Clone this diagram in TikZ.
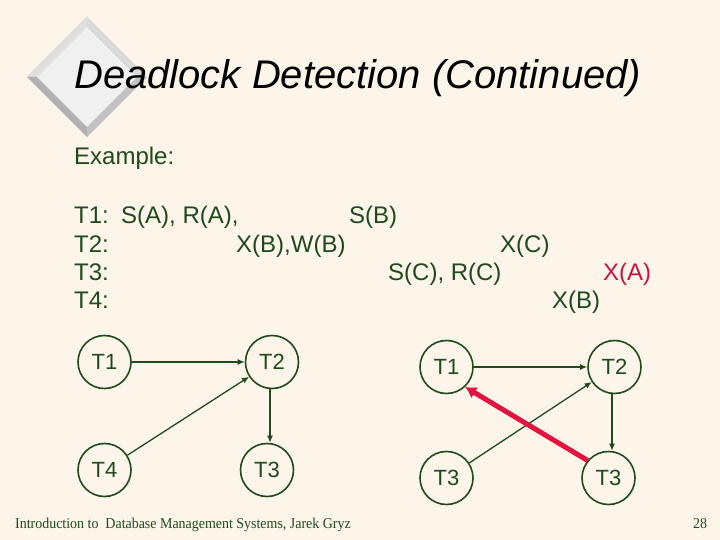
\documentclass[tikz,border=0pt]{standalone}
\usepackage{fontspec}
\setmainfont{Liberation Sans}
\newfontfamily\footfont{Liberation Serif}
\usetikzlibrary{arrows.meta}
\definecolor{bgc}{HTML}{FDF5E9}
\definecolor{dgreen}{HTML}{1E4A1E}
\definecolor{redc}{HTML}{E3123E}
\definecolor{redt}{HTML}{CC1144}
\tikzset{
  tnode/.style={circle, draw=dgreen, line width=1.6pt, minimum size=53pt, inner sep=0pt, text=dgreen, font=\fontsize{22}{26}\selectfont},
  edge/.style={draw=dgreen, line width=1.3pt, -{Latex[length=7pt,width=6pt]}},
  redge/.style={draw=redc, line width=5pt, -{Latex[length=11pt,width=13pt]}},
  body/.style={anchor=base west, inner sep=0pt, text=dgreen, font=\fontsize{24}{28}\selectfont},
  foot/.style={anchor=base west, inner sep=0pt, text=dgreen, font=\footfont\fontsize{15}{18}\selectfont},
}
\begin{document}
\begin{tikzpicture}[x=1pt, y=-1pt]
\useasboundingbox (0,0) rectangle (720,540);
\fill[bgc] (0,0) rectangle (720,540);
% diamond logo
\fill[gray!45] (27,77) -- (87,17) -- (147,77) -- (87,137) -- cycle;
\fill[gray!25] (27,77) -- (87,17) -- (87,27) -- (37,77) -- cycle;
\fill[gray!30] (87,17) -- (147,77) -- (137,77) -- (87,27) -- cycle;
\fill[gray!60] (27,77) -- (87,137) -- (87,127) -- (37,77) -- cycle;
\fill[gray!48] (87,137) -- (147,77) -- (137,77) -- (87,127) -- cycle;
\fill[black!6] (37,77) -- (87,27) -- (137,77) -- (87,127) -- cycle;
% title
\node[anchor=base west, inner sep=0pt, font=\itshape\fontsize{40}{46}\selectfont] (title) at (74,89) {Deadlock Detection (Continued)};
% body text
\node[body] (ex) at (74,165) {Example:};
\node[body] (l1) at (74,223) {T1:};
\node[body] (l2) at (74,252) {T2:};
\node[body] (l3) at (74,280) {T3:};
\node[body] (l4) at (74,308) {T4:};
\node[body] (a1) at (121,223) {S(A), R(A),};
\node[body] (a2) at (349,223) {S(B)};
\node[body] (b1) at (236,252) {X(B),W(B)};
\node[body] (b2) at (500,252) {X(C)};
\node[body] (c1) at (388,280) {S(C), R(C)};
\node[body, text=redt] (c2) at (603,280) {X(A)};
\node[body] (d1) at (552,308) {X(B)};
% left graph
\node[tnode] (L1) at (104.5,362) {T1};
\node[tnode] (L2) at (272,362) {T2};
\node[tnode] (L4) at (104.5,470) {T4};
\node[tnode] (L3) at (267,470) {T3};
\draw[edge] (L1) -- (L2);
\draw[edge] (L4) -- (L2);
\draw[edge] ([xshift=-2pt]L2.south) -- ([xshift=-2pt]L2.south |- L3.north);
% right graph
\node[tnode] (R1) at (446.5,367) {T1};
\node[tnode] (R2) at (614.5,367) {T2};
\node[tnode] (R3a) at (446.5,478) {T3};
\node[tnode] (R3b) at (608.5,478) {T3};
\draw[edge] (R1) -- (R2);
\draw[edge] (R3a) -- (R2);
\draw[edge] ([xshift=-2.5pt]R2.south) -- ([xshift=-2.5pt]R2.south |- R3b.north);
\draw[redge] (R3b.140) -- (R1.-47);
% footer
\node[foot] (ft) at (15,528) {\scalebox{0.93}[1]{Introduction to\ \ Database Management Systems, Jarek Gryz}};
\node[foot] (pg) at (693,528) {\scalebox{0.93}[1]{28}};
\end{tikzpicture}
\end{document}
